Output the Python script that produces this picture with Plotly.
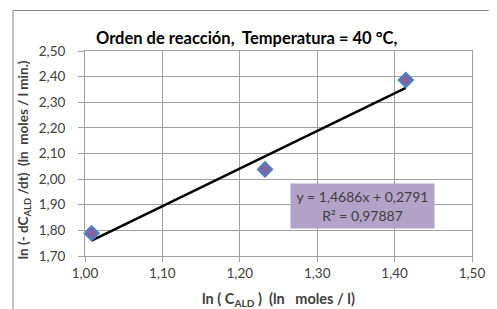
import plotly.graph_objects as go

# Data
x_vals = [1.0085, 1.2326, 1.4145]
y_vals = [1.789, 2.038, 2.387]
slope = 1.4686
intercept = 0.2791
r2 = 0.97887

x_ticks = [1.00, 1.10, 1.20, 1.30, 1.40, 1.50]
y_ticks = [1.70, 1.80, 1.90, 2.00, 2.10, 2.20, 2.30, 2.40, 2.50]

fit_x = [min(x_vals), max(x_vals)]
fit_y = [slope * v + intercept for v in fit_x]

FONT = "Lato"
fig = go.Figure()
fig.add_trace(go.Scatter(x=fit_x, y=fit_y, mode="lines",
                         line=dict(color="black", width=2.5), showlegend=False))
fig.add_trace(go.Scatter(x=x_vals, y=y_vals, mode="markers",
                         marker=dict(symbol="diamond", size=11, color="#8064a2",
                                     line=dict(color="#4f81bd", width=2)),
                         showlegend=False, cliponaxis=False))

# page has an 8px body margin; work in page pixel coordinates
OFF = 8
PW, PH = 497, 309
W, H = PW - OFF, PH - OFF
PL, PR, PT, PB = 85, 480, 51, 256  # plot area in page px
L, R, T, B = PL - OFF, W - (PR - OFF), PT - OFF, H - (PB - OFF)
pw, ph = PR - PL, PB - PT

def px_x(p):
    return (p - PL) / pw

def px_y(p):
    return (PB - p) / ph

axis_common = dict(showgrid=True, gridcolor="#a0a0a0", gridwidth=1,
                   showline=True, linecolor="#a0a0a0", linewidth=1, mirror=True,
                   ticks="outside", tickcolor="#a0a0a0",
                   tickfont=dict(family=FONT, size=13.5, color="#404040"),
                   zeroline=False, tickformat=".2f")

border = dict(color="#868686", width=1)
fig.update_layout(
    width=W, height=H,
    margin=dict(l=L, r=R, t=T, b=B),
    paper_bgcolor="white", plot_bgcolor="white",
    separators=",.",
    font=dict(family=FONT, color="#404040"),
    xaxis=dict(range=[1.0, 1.5], tickvals=x_ticks, ticklen=5, **axis_common),
    yaxis=dict(range=[1.7, 2.5], tickvals=y_ticks, ticklen=6, ticklabelstandoff=10, **axis_common),
    shapes=[
        dict(type="line", xref="paper", yref="paper",
             x0=px_x(11.5), x1=px_x(497), y0=px_y(10.5), y1=px_y(10.5), line=border),
        dict(type="line", xref="paper", yref="paper",
             x0=px_x(11.5), x1=px_x(11.5), y0=px_y(10.5), y1=px_y(309), line=border),
    ],
    annotations=[
        dict(text="<b>Orden de reacción,  Temperatura = 40 °C,</b>", xref="paper", yref="paper",
             x=px_x(250), y=px_y(38), showarrow=False, xanchor="center", yanchor="middle",
             font=dict(family=FONT, size=16.5, color="black")),
        dict(text="<b>ln (- dC<sub>ALD</sub> /dt)  (ln  moles / l min.)</b>", xref="paper", yref="paper",
             x=px_x(23), y=px_y(160), showarrow=False, textangle=-90,
             xanchor="center", yanchor="middle",
             font=dict(family=FONT, size=13.5, color="#404040")),
        dict(text="<b>ln ( C<sub>ALD</sub> )  (ln   moles / l)</b>", xref="paper", yref="paper",
             x=px_x(282), y=px_y(299), showarrow=False, xanchor="center", yanchor="middle",
             font=dict(family=FONT, size=14.5, color="#404040")),
        dict(text="y = 1,4686x + 0,2791<br>R² = 0,97887", xref="paper", yref="paper",
             x=px_x(368.5), y=px_y(205.5), showarrow=False, xanchor="center", yanchor="middle",
             width=139, height=40, bgcolor="#b3a2c7", borderpad=2,
             font=dict(family=FONT, size=14, color="#404040")),
    ],
)

fig.write_html("out.html")
